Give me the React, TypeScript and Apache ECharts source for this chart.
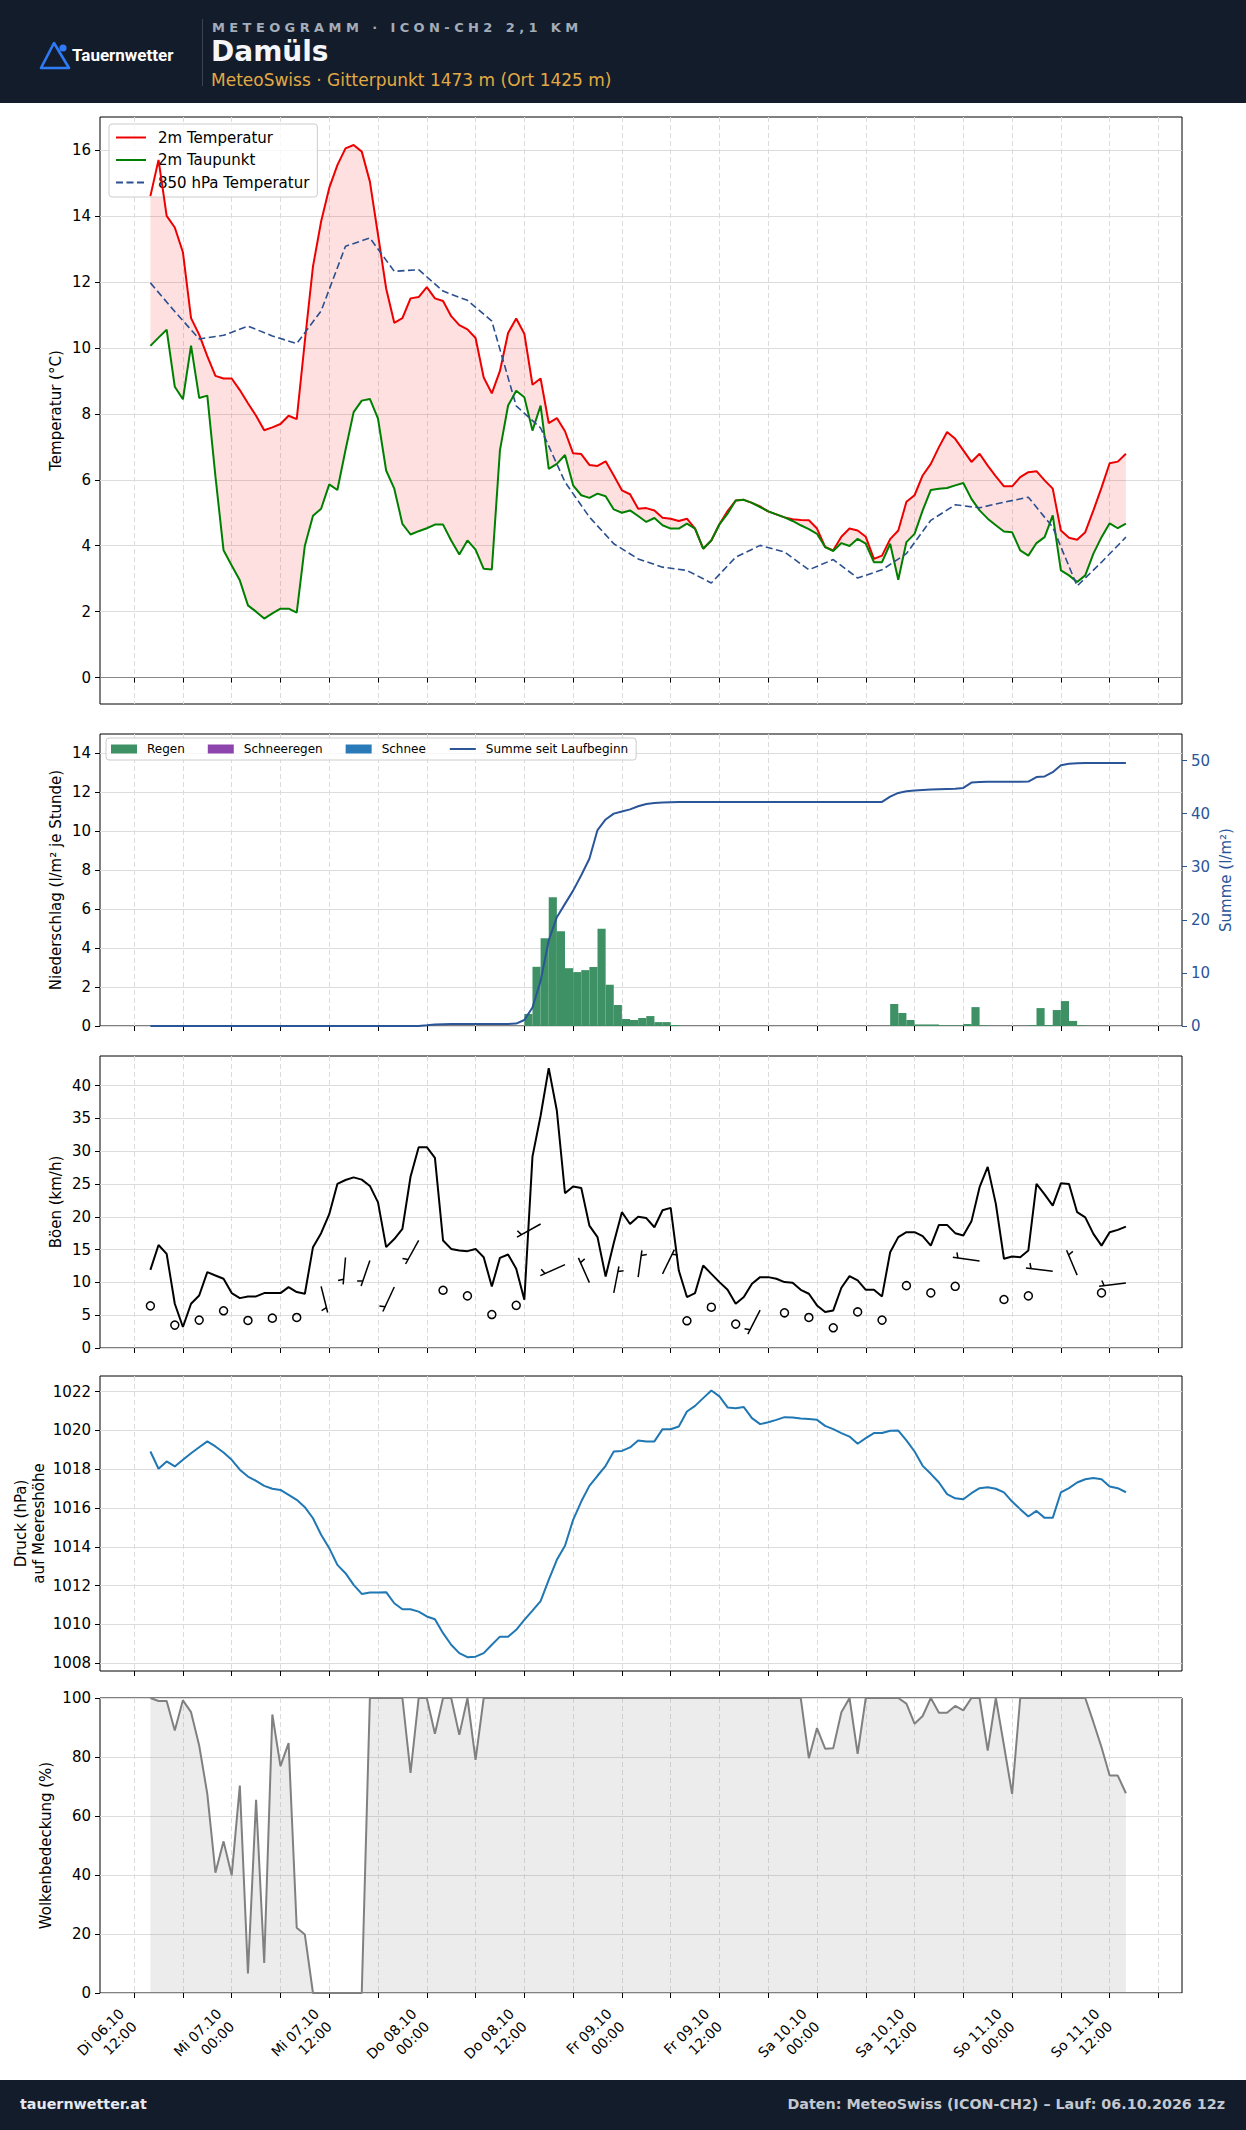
import React, { useEffect, useRef } from "react";
import * as echarts from "echarts";

const FONT = "DejaVu Sans";

// ---- time axis (hours since Di 06.10 00:00 local) ----
const FIRST_HOUR = 14;
const X_MIN = 7.8;
const X_MAX = 140.9;
const tickHours = [12, 18, 24, 30, 36, 42, 48, 54, 60, 66, 72, 78, 84, 90, 96, 102, 108, 114, 120, 126, 132, 138];
const labelHours = [12, 24, 36, 48, 60, 72, 84, 96, 108, 120, 132];
const tickLabels = [
  "Di 06.10\n12:00", "Mi 07.10\n00:00", "Mi 07.10\n12:00", "Do 08.10\n00:00", "Do 08.10\n12:00",
  "Fr 09.10\n00:00", "Fr 09.10\n12:00", "Sa 10.10\n00:00", "Sa 10.10\n12:00", "So 11.10\n00:00", "So 11.10\n12:00",
];

// ---- y ticks ----
const tempTicks = [0, 2, 4, 6, 8, 10, 12, 14, 16];
const precipTicks = [0, 2, 4, 6, 8, 10, 12, 14];
const sumTicks = [0, 10, 20, 30, 40, 50];
const gustTicks = [0, 5, 10, 15, 20, 25, 30, 35, 40];
const pressTicks = [1008, 1010, 1012, 1014, 1016, 1018, 1020, 1022];
const cloudTicks = [0, 20, 40, 60, 80, 100];

// ---- hourly series (h14 .. h134) ----
const temp2m = [
  14.6, 15.7, 14.0, 13.65, 12.9, 10.9, 10.4, 9.75, 9.15, 9.07,
  9.07, 8.72, 8.32, 7.94, 7.5, 7.59, 7.69, 7.94, 7.84, 10.2,
  12.47, 13.83, 14.85, 15.54, 16.05, 16.15, 15.95, 15.04, 13.43, 11.8,
  10.76, 10.9, 11.5, 11.54, 11.84, 11.5, 11.42, 10.96, 10.69, 10.56,
  10.3, 9.1, 8.62, 9.3, 10.45, 10.89, 10.43, 8.88, 9.07, 7.72,
  7.87, 7.47, 6.8, 6.78, 6.45, 6.42, 6.56, 6.13, 5.68, 5.56,
  5.12, 5.14, 5.07, 4.85, 4.82, 4.75, 4.82, 4.52, 3.91, 4.16,
  4.65, 5.05, 5.37, 5.39, 5.3, 5.19, 5.04, 4.95, 4.86, 4.8,
  4.78, 4.77, 4.52, 3.96, 3.86, 4.27, 4.52, 4.46, 4.27, 3.6,
  3.7, 4.2, 4.46, 5.33, 5.53, 6.13, 6.48, 6.99, 7.45, 7.24,
  6.89, 6.54, 6.79, 6.43, 6.1, 5.8, 5.8, 6.08, 6.23, 6.26,
  5.98, 5.73, 4.46, 4.24, 4.18, 4.41, 5.07, 5.76, 6.5, 6.55,
  6.79,
];
const dew2m = [
  10.06, 10.31, 10.55, 8.82, 8.44, 10.07, 8.48, 8.55, 6.1, 3.86,
  3.4, 2.95, 2.19, 2.0, 1.79, 1.95, 2.09, 2.09, 1.97, 4.0,
  4.91, 5.12, 5.86, 5.69, 6.9, 8.05, 8.4, 8.45, 7.85, 6.28,
  5.73, 4.66, 4.34, 4.44, 4.53, 4.64, 4.64, 4.16, 3.73, 4.16,
  3.88, 3.3, 3.28, 6.9, 8.25, 8.7, 8.5, 7.49, 8.25, 6.33,
  6.48, 6.75, 5.83, 5.53, 5.45, 5.58, 5.5, 5.1, 5.0, 5.07,
  4.9, 4.72, 4.84, 4.62, 4.52, 4.52, 4.67, 4.52, 3.91, 4.16,
  4.65, 4.97, 5.37, 5.39, 5.3, 5.17, 5.04, 4.95, 4.86, 4.75,
  4.62, 4.5, 4.36, 3.96, 3.84, 4.08, 3.99, 4.21, 4.06, 3.5,
  3.5, 4.06, 2.97, 4.11, 4.36, 5.07, 5.69, 5.73, 5.75, 5.83,
  5.9, 5.42, 5.07, 4.82, 4.62, 4.43, 4.41, 3.86, 3.7, 4.08,
  4.26, 4.92, 3.25, 3.1, 2.9, 3.1, 3.76, 4.26, 4.68, 4.53,
  4.67,
];
// 850 hPa temperature, 3-hourly from h14
const temp850 = [
  11.97, 11.1, 10.27, 10.38, 10.66, 10.36, 10.13, 11.12, 13.08, 13.33,
  12.32, 12.37, 11.72, 11.44, 10.81, 8.24, 7.57, 5.93, 4.87, 4.06,
  3.6, 3.35, 3.25, 2.87, 3.65, 4.01, 3.81, 3.27, 3.58, 3.02,
  3.27, 3.76, 4.77, 5.24, 5.15, 5.32, 5.47, 4.56, 2.78, 3.5,
  4.26,
];

// precipitation (rain) per hour: bar from hour to hour+1
const rainHours = [60, 61, 62, 63, 64, 65, 66, 67, 68, 69, 70, 71, 72, 73, 74, 75, 76, 77, 78,
  105, 106, 107, 108, 109, 110, 111, 112, 113, 114, 115, 116, 122, 123, 124, 125, 126, 127, 128];
const rainValues = [0.62, 3.04, 4.51, 6.62, 4.87, 2.97, 2.77, 2.87, 3.03, 4.99, 2.12, 1.08, 0.36, 0.31, 0.41, 0.51, 0.2, 0.2, 0.05,
  1.13, 0.67, 0.31, 0.08, 0.08, 0.08, 0.03, 0.03, 0.03, 0.1, 0.97, 0.03, 0.04, 0.92, 0.05, 0.82, 1.28, 0.26, 0.03];
// accumulated since model start (h14 .. h134)
const precipSum = [
  0, 0, 0, 0, 0, 0, 0, 0, 0, 0,
  0, 0, 0, 0, 0, 0, 0, 0, 0, 0,
  0, 0, 0, 0, 0, 0, 0, 0, 0, 0,
  0, 0, 0, 0, 0.12, 0.28, 0.35, 0.36, 0.36, 0.37,
  0.37, 0.37, 0.38, 0.38, 0.38, 0.45, 1.13, 3.5, 8.5, 16.1,
  20.5, 23.0, 25.5, 28.4, 31.5, 36.9, 38.9, 40.0, 40.4, 40.8,
  41.4, 41.8, 42.0, 42.1, 42.15, 42.2, 42.2, 42.2, 42.2, 42.2,
  42.2, 42.2, 42.2, 42.2, 42.2, 42.2, 42.2, 42.2, 42.2, 42.2,
  42.2, 42.2, 42.2, 42.2, 42.2, 42.2, 42.2, 42.2, 42.2, 42.2,
  42.2, 43.2, 43.9, 44.2, 44.35, 44.45, 44.55, 44.6, 44.65, 44.7,
  44.85, 45.85, 45.95, 46.0, 46.0, 46.0, 46.0, 46.0, 46.05, 46.9,
  47.0, 47.8, 49.1, 49.4, 49.5, 49.55, 49.55, 49.55, 49.55, 49.55,
  49.55,
];

const gusts = [
  11.9, 15.7, 14.35, 6.74, 3.2, 6.74, 8.0, 11.56, 11.05, 10.55,
  8.37, 7.6, 7.86, 7.86, 8.37, 8.37, 8.37, 9.28, 8.52, 8.27,
  15.37, 17.5, 20.4, 25.0, 25.6, 26.0, 25.66, 24.7, 22.2, 15.37,
  16.6, 18.15, 26.1, 30.6, 30.6, 28.96, 16.38, 15.1, 14.86, 14.76,
  15.1, 13.84, 9.38, 13.74, 14.25, 12.07, 7.35, 29.16, 35.4, 42.65,
  36.16, 23.58, 24.6, 24.4, 18.66, 16.9, 10.9, 16.0, 20.7, 18.9,
  20.0, 19.8, 18.4, 21.0, 21.35, 11.8, 7.76, 8.37, 12.58, 11.3,
  10.04, 8.87, 6.74, 7.76, 9.79, 10.8, 10.8, 10.55, 10.04, 9.94,
  8.87, 8.27, 6.49, 5.48, 5.73, 9.18, 10.95, 10.3, 8.87, 8.87,
  7.86, 14.6, 16.9, 17.65, 17.65, 17.04, 15.6, 18.76, 18.76, 17.5,
  17.14, 19.3, 24.5, 27.6, 21.96, 13.6, 13.95, 13.84, 14.86, 25.0,
  23.4, 21.7, 25.1, 25.0, 20.7, 19.9, 17.4, 15.6, 17.65, 18.0,
  18.5,
];
// wind barbs, 3-hourly from h14: position (km/h) and direction (deg, null = calm circle)
const windSpeed = [
  6.42, 3.49, 4.25, 5.67, 4.2, 4.55, 4.65, 9.4, 13.8, 13.35,
  9.3, 16.4, 8.8, 7.94, 5.1, 6.5, 18.9, 12.7, 9.97, 8.4,
  10.8, 11.3, 4.15, 6.22, 3.64, 5.77, 5.36, 4.65, 3.08, 5.5,
  4.25, 9.5, 8.4, 9.4, 13.25, 7.39, 7.94, 11.7, 11.1, 8.4,
  9.9,
];
const windDir = [
  null, null, null, null, null, null, null, 166, 185, 199,
  205, 209, null, null, null, null, 241, 246, 336, 11,
  8, 26, null, null, null, 207, null, null, null, null,
  null, null, null, null, 278, null, null, 277, 337, null,
  263,
];

const pressure = [
  1018.91, 1018.02, 1018.4, 1018.14, 1018.48, 1018.82, 1019.13, 1019.43, 1019.17, 1018.86,
  1018.48, 1017.97, 1017.62, 1017.4, 1017.14, 1016.99, 1016.93, 1016.68, 1016.42, 1016.04,
  1015.47, 1014.62, 1013.93, 1013.07, 1012.64, 1012.04, 1011.57, 1011.64, 1011.64, 1011.66,
  1011.09, 1010.78, 1010.78, 1010.66, 1010.41, 1010.27, 1009.55, 1008.95, 1008.52, 1008.31,
  1008.34, 1008.52, 1008.95, 1009.37, 1009.37, 1009.72, 1010.23, 1010.71, 1011.2, 1012.3,
  1013.33, 1014.05, 1015.39, 1016.33, 1017.14, 1017.66, 1018.17, 1018.91, 1018.94, 1019.12,
  1019.48, 1019.43, 1019.43, 1020.06, 1020.06, 1020.2, 1020.97, 1021.26, 1021.66, 1022.05,
  1021.75, 1021.18, 1021.14, 1021.2, 1020.63, 1020.32, 1020.42, 1020.54, 1020.68, 1020.66,
  1020.61, 1020.58, 1020.54, 1020.23, 1020.06, 1019.86, 1019.68, 1019.31, 1019.6, 1019.86,
  1019.86, 1019.98, 1019.99, 1019.48, 1018.91, 1018.17, 1017.76, 1017.31, 1016.71, 1016.5,
  1016.45, 1016.76, 1017.02, 1017.07, 1016.99, 1016.8, 1016.33, 1015.94, 1015.56, 1015.85,
  1015.49, 1015.49, 1016.8, 1017.02, 1017.31, 1017.48, 1017.54, 1017.48, 1017.11, 1017.02,
  1016.81,
];

const cloudCover = [
  100, 99, 99, 89, 99.2, 95.2, 83.9, 67.5, 40.8, 51.4,
  39.9, 70.3, 6.6, 65.5, 10.2, 94.4, 76.9, 84.7, 22.1, 19.8,
  0, 0, 0, 0, 0, 0, 0, 100, 100, 100,
  100, 100, 74.6, 100, 100, 87.9, 100, 100, 87.5, 100,
  79, 100, 100, 100, 100, 100, 100, 100, 100, 100,
  100, 100, 100, 100, 100, 100, 100, 100, 100, 100,
  100, 100, 100, 100, 100, 100, 100, 100, 100, 100,
  100, 100, 100, 100, 100, 100, 100, 100, 100, 100,
  100, 79.6, 89.8, 82.8, 83, 95.2, 100, 81.1, 100, 100,
  100, 100, 100, 98.1, 91.3, 93.9, 100, 95, 95, 97.3,
  95.8, 100, 100, 82.2, 100, 83.9, 67.5, 100, 100, 100,
  100, 100, 100, 100, 100, 100, 91.8, 83.3, 73.7, 73.7,
  67.7,
];

const C = {
  red: "#ee0000",
  green: "#008000",
  t850: "#2b4f8f",
  rain: "#3d9164",
  sleet: "#8e44ad",
  snow: "#2a7ab9",
  sum: "#2a5599",
  press: "#1f77b4",
  cloud: "#808080",
  grid: "#dcdcdc",
};

const hours = temp2m.map((_, i) => FIRST_HOUR + i);
const hours3 = temp850.map((_, i) => FIRST_HOUR + 3 * i);
const pairs = (xs: number[], ys: number[]) => xs.map((x, i) => [x, ys[i]]);

function xAxisFor(grid: number, showLabels: boolean) {
  return {
    type: "value",
    gridIndex: grid,
    min: X_MIN,
    max: X_MAX,
    axisLine: { show: false },
    axisTick: { show: true, customValues: tickHours, length: 5, lineStyle: { color: "#000", width: 1 } },
    axisLabel: showLabels
      ? {
          show: true,
          customValues: labelHours,
          rotate: 45,
          margin: 31,
          fontSize: 14,
          lineHeight: 18,
          fontFamily: FONT,
          color: "#000",
          align: "right",
          verticalAlign: "middle",
          formatter: (v: number) => {
            const i = labelHours.indexOf(Math.round(v));
            return i >= 0 ? tickLabels[i] + "\n" : "";
          },
        }
      : { show: false },
    splitLine: { show: true, lineStyle: { color: C.grid, width: 1, type: [5, 3] } },
  };
}

function yAxisFor(grid: number, min: number, max: number, ticks: number[], name: string, nameGap: number, extra: any = {}) {
  const color = extra.color || "#000";
  return {
    type: "value",
    gridIndex: grid,
    min,
    max,
    position: extra.position || "left",
    name,
    nameLocation: "middle",
    nameGap,
    nameRotate: 90,
    nameMoveOverlap: false,
    nameTextStyle: { fontSize: 15, fontFamily: FONT, color, lineHeight: 18 },
    axisLine: { show: false },
    axisTick: { show: true, customValues: ticks, length: 5, lineStyle: { color: extra.tickColor || "#000", width: 1 } },
    axisLabel: {
      show: true,
      customValues: ticks,
      fontSize: 15,
      fontFamily: FONT,
      color,
      margin: 9,
      formatter: (v: number) => String(v),
    },
    splitLine: { show: extra.split !== false, lineStyle: { color: C.grid, width: 1 } },
  };
}

const GRID = { left: 100, width: 1082, show: true, borderColor: "#000", borderWidth: 1, backgroundColor: "#fff" };
const NO_SYMBOL = { opacity: 0 };

function buildOption() {
  const lineBase = { type: "line", symbol: "none", showSymbol: false, animation: false };

  const barbSeries = {
    type: "custom",
    name: "Wind",
    xAxisIndex: 2,
    yAxisIndex: 3,
    z: 4,
    silent: true,
    clip: false,
    data: windSpeed.map((v, i) => [hours3[i], v, windDir[i] == null ? -1 : windDir[i]]),
    encode: { x: 0, y: 1 },
    renderItem: (_params: any, api: any) => {
      const h = api.value(0);
      const v = api.value(1);
      const dir = api.value(2);
      const p = api.coord([h, v]);
      const style = { stroke: "#000", lineWidth: 1.5, fill: "none" };
      if (dir < 0) {
        return { type: "circle", shape: { cx: p[0], cy: p[1], r: 4 }, style };
      }
      const r = (dir * Math.PI) / 180;
      const dx = Math.sin(r);
      const dy = -Math.cos(r);
      const L = 27;
      const ex = p[0] + dx * L;
      const ey = p[1] + dy * L;
      const fo = L - 5.1;
      const sx = p[0] + dx * fo;
      const sy = p[1] + dy * fo;
      const px = -dy;
      const py = dx;
      const fx = sx + px * 5.4 + dx * 1.7;
      const fy = sy + py * 5.4 + dy * 1.7;
      return {
        type: "group",
        children: [
          { type: "line", shape: { x1: p[0], y1: p[1], x2: ex, y2: ey }, style },
          { type: "line", shape: { x1: sx, y1: sy, x2: fx, y2: fy }, style },
        ],
      };
    },
  };

  const rainBar = (name: string, color: string, hs: number[], vs: number[]) => ({
    type: "custom",
    name,
    xAxisIndex: 1,
    yAxisIndex: 1,
    z: 2,
    itemStyle: { color },
    data: hs.map((h, i) => [h, vs[i]]),
    encode: { x: 0, y: 1 },
    renderItem: (_params: any, api: any) => {
      const h = api.value(0);
      const v = api.value(1);
      const p0 = api.coord([h, v]);
      const p1 = api.coord([h + 1, 0]);
      return {
        type: "rect",
        shape: { x: p0[0], y: p0[1], width: p1[0] - p0[0], height: p1[1] - p0[1] },
        style: { fill: color },
      };
    },
  });

  return {
    animation: false,
    backgroundColor: "#ffffff",
    textStyle: { fontFamily: FONT },
    grid: [
      { ...GRID, top: 117, height: 587 },
      { ...GRID, top: 734, height: 292 },
      { ...GRID, top: 1056, height: 292 },
      { ...GRID, top: 1376, height: 295 },
      { ...GRID, top: 1698, height: 295 },
    ],
    xAxis: [xAxisFor(0, false), xAxisFor(1, false), xAxisFor(2, false), xAxisFor(3, false), xAxisFor(4, true)],
    yAxis: [
      yAxisFor(0, -0.8, 17.0, tempTicks, "Temperatur (°C)", 35),
      yAxisFor(1, 0, 15, precipTicks, "Niederschlag (l/m² je Stunde)", 35),
      yAxisFor(1, 0, 55, sumTicks, "Summe (l/m²)", 35, { position: "right", color: C.sum, tickColor: C.sum, split: false }),
      yAxisFor(2, 0, 44.5, gustTicks, "Böen (km/h)", 35),
      yAxisFor(3, 1007.6, 1022.8, pressTicks, "Druck (hPa)\nauf Meereshöhe", 52),
      yAxisFor(4, 0, 100, cloudTicks, "Wolkenbedeckung (%)", 45),
    ],
    legend: [
      {
        show: true,
        z: 2,
        orient: "vertical",
        left: 109,
        top: 124,
        data: [
          { name: "2m Temperatur", itemStyle: NO_SYMBOL },
          { name: "2m Taupunkt", itemStyle: NO_SYMBOL },
          { name: "850 hPa Temperatur", itemStyle: NO_SYMBOL },
        ],
        itemWidth: 30,
        itemHeight: 15,
        itemGap: 7.5,
        padding: [6, 8, 7, 6],
        backgroundColor: "rgba(255,255,255,0.8)",
        borderColor: "#cccccc",
        borderWidth: 1,
        borderRadius: 3,
        selectedMode: false,
        textStyle: { fontSize: 15, color: "#000", fontFamily: FONT, padding: [0, 0, 0, 7] },
      },
      {
        show: true,
        z: 2,
        orient: "horizontal",
        left: 106,
        top: 738,
        data: [
          { name: "Regen", icon: "rect" },
          { name: "Schneeregen", icon: "rect" },
          { name: "Schnee", icon: "rect" },
          { name: "Summe seit Laufbeginn", itemStyle: NO_SYMBOL },
        ],
        itemWidth: 26,
        itemHeight: 9,
        itemGap: 23,
        padding: [5, 8, 5, 5],
        backgroundColor: "rgba(255,255,255,0.8)",
        borderColor: "#cccccc",
        borderWidth: 1,
        borderRadius: 3,
        selectedMode: false,
        textStyle: { fontSize: 12, color: "#000", fontFamily: FONT, padding: [0, 0, 0, 5] },
      },
    ],
    series: [
      // panel 1: temperature
      {
        type: "custom",
        name: "fill",
        xAxisIndex: 0,
        yAxisIndex: 0,
        z: 1,
        silent: true,
        data: [[hours[0], temp2m[0]]],
        encode: { x: 0, y: 1 },
        renderItem: (_params: any, api: any) => {
          const top = hours.map((h, i) => api.coord([h, temp2m[i]]));
          const bot = hours.map((h, i) => api.coord([h, dew2m[i]])).reverse();
          return { type: "polygon", shape: { points: top.concat(bot) }, style: { fill: "rgba(255,0,0,0.12)" } };
        },
      },
      {
        ...lineBase,
        name: "2m Temperatur",
        xAxisIndex: 0,
        yAxisIndex: 0,
        z: 3,
        data: pairs(hours, temp2m),
        itemStyle: { color: C.red },
        lineStyle: { color: C.red, width: 2 },
        markLine: {
          silent: true,
          symbol: "none",
          label: { show: false },
          data: [{ yAxis: 0 }],
          lineStyle: { color: "#888888", width: 1.2, type: "solid" },
        },
      },
      {
        ...lineBase,
        name: "2m Taupunkt",
        xAxisIndex: 0,
        yAxisIndex: 0,
        z: 3,
        data: pairs(hours, dew2m),
        itemStyle: { color: C.green },
        lineStyle: { color: C.green, width: 2 },
      },
      {
        ...lineBase,
        name: "850 hPa Temperatur",
        xAxisIndex: 0,
        yAxisIndex: 0,
        z: 3,
        data: pairs(hours3, temp850),
        itemStyle: { color: C.t850 },
        lineStyle: { color: C.t850, width: 1.6, type: [7, 3.5] },
      },
      // panel 2: precipitation
      rainBar("Regen", C.rain, rainHours, rainValues),
      rainBar("Schneeregen", C.sleet, [], []),
      rainBar("Schnee", C.snow, [], []),
      {
        ...lineBase,
        name: "Summe seit Laufbeginn",
        xAxisIndex: 1,
        yAxisIndex: 2,
        z: 3,
        data: pairs(hours, precipSum),
        itemStyle: { color: C.sum },
        lineStyle: { color: C.sum, width: 2 },
      },
      // panel 3: gusts + wind barbs
      {
        ...lineBase,
        name: "Böen",
        xAxisIndex: 2,
        yAxisIndex: 3,
        z: 3,
        data: pairs(hours, gusts),
        itemStyle: { color: "#000" },
        lineStyle: { color: "#000", width: 2 },
      },
      barbSeries,
      // panel 4: pressure
      {
        ...lineBase,
        name: "Druck",
        xAxisIndex: 3,
        yAxisIndex: 4,
        z: 3,
        data: pairs(hours, pressure),
        itemStyle: { color: C.press },
        lineStyle: { color: C.press, width: 2 },
      },
      // panel 5: clouds
      {
        ...lineBase,
        name: "Wolkenbedeckung",
        xAxisIndex: 4,
        yAxisIndex: 5,
        z: 3,
        data: pairs(hours, cloudCover),
        itemStyle: { color: C.cloud },
        lineStyle: { color: C.cloud, width: 2 },
        areaStyle: { color: "rgba(128,128,128,0.22)", origin: "start" },
      },
    ],
  };
}

const BAR_BG = "#131c2a";

export default function App() {
  const ref = useRef<HTMLDivElement | null>(null);
  useEffect(() => {
    if (!ref.current) return;
    const chart = echarts.init(ref.current, undefined, { renderer: "svg" });
    chart.setOption(buildOption() as any);
    return () => chart.dispose();
  }, []);

  return (
    <div style={{ position: "absolute", left: 0, top: 0, width: 1246, height: 2130, background: "#fff", overflow: "hidden" }}>
      <div ref={ref} style={{ position: "absolute", left: 0, top: 0, width: 1246, height: 2130 }} />
      {/* header */}
      <div style={{ position: "absolute", left: 0, top: 0, width: 1246, height: 103, background: BAR_BG }}>
        <svg style={{ position: "absolute", left: 0, top: 0 }} width={80} height={103}>
          <polygon points="54,43 41,68 69,68" fill="none" stroke="#2f7bf5" strokeWidth={2.6} strokeLinejoin="round" />
          <circle cx={63} cy={48} r={3.6} fill="#2f7bf5" />
        </svg>
        <div style={{ position: "absolute", left: 72, top: 44, font: "bold 17px Roboto", color: "#ffffff", lineHeight: "22px", whiteSpace: "nowrap" }}>
          Tauernwetter
        </div>
        <div style={{ position: "absolute", left: 202, top: 19, width: 1, height: 67, background: "#3a4353" }} />
        <div
          style={{
            position: "absolute",
            left: 212,
            top: 19,
            font: `bold 13px "${FONT}"`,
            letterSpacing: "4.4px",
            color: "#a3acb9",
            lineHeight: "18px",
            whiteSpace: "nowrap",
          }}
        >
          METEOGRAMM · ICON-CH2 2,1 KM
        </div>
        <div style={{ position: "absolute", left: 211, top: 35, font: `bold 28px "${FONT}"`, color: "#f4f6f9", lineHeight: "34px", whiteSpace: "nowrap" }}>
          Damüls
        </div>
        <div style={{ position: "absolute", left: 211, top: 69, font: `17px "${FONT}"`, color: "#e2aa44", lineHeight: "22px", whiteSpace: "nowrap" }}>
          MeteoSwiss · Gitterpunkt 1473 m (Ort 1425 m)
        </div>
      </div>
      {/* footer */}
      <div style={{ position: "absolute", left: 0, top: 2080, width: 1246, height: 50, background: BAR_BG }}>
        <div style={{ position: "absolute", left: 20, top: 15, font: `bold 14.3px "${FONT}"`, color: "#e6e9ee", lineHeight: "18px", whiteSpace: "nowrap" }}>
          tauernwetter.at
        </div>
        <div
          style={{ position: "absolute", right: 21, top: 15, font: `bold 14.3px "${FONT}"`, color: "#c3c8d0", lineHeight: "18px", whiteSpace: "nowrap" }}
        >
          Daten: MeteoSwiss (ICON-CH2) – Lauf: 06.10.2026 12z
        </div>
      </div>
    </div>
  );
}
